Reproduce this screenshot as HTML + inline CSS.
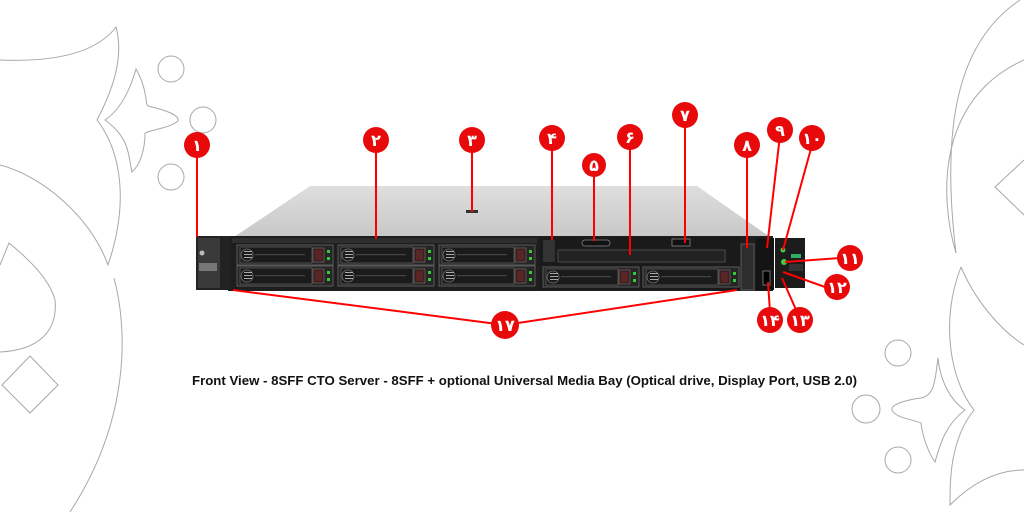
<!DOCTYPE html>
<html><head><meta charset="utf-8"><style>
html,body{margin:0;padding:0;background:#fff;width:1024px;height:512px;overflow:hidden}
svg{display:block}
.num{font-family:"Liberation Sans","DejaVu Sans",sans-serif;font-weight:bold;fill:#fff;font-size:16px;text-anchor:middle}
</style></head><body>
<svg width="1024" height="512" viewBox="0 0 1024 512" xmlns="http://www.w3.org/2000/svg">
<defs>
<linearGradient id="top" x1="0" y1="0" x2="0" y2="1"><stop offset="0" stop-color="#dedede"/><stop offset="1" stop-color="#c8c8c8"/></linearGradient>
<g id="drv">
<rect x="0" y="0" width="96" height="20" fill="#262626" stroke="#6a6a6a" stroke-width="0.8"/>
<rect x="3" y="2" width="72" height="16" fill="#1b1b1b" stroke="#5a5a5a" stroke-width="0.8"/>
<circle cx="10" cy="10" r="6" fill="none" stroke="#777" stroke-width="0.8"/>
<rect x="7" y="6" width="8" height="1" fill="#aaa"/><rect x="7" y="9" width="8" height="1" fill="#aaa"/><rect x="7" y="12" width="8" height="1" fill="#aaa"/>
<rect x="18" y="9" width="50" height="1.2" fill="#444"/>
<rect x="76" y="3" width="11" height="14" fill="#3a1f1f" stroke="#777" stroke-width="0.6"/>
<rect x="78" y="5" width="7" height="10" fill="#5a2525"/>
<rect x="90" y="5" width="3" height="3" fill="#3c3"/><rect x="90" y="12" width="3" height="3" fill="#3c3"/>
</g>
</defs>
<rect width="1024" height="512" fill="#fff"/>
<g fill="none" stroke="#a8a8a8" stroke-width="1">
<path d="M0 60 C50 62 95 55 116 27 C125 60 110 95 97 120 C120 150 130 200 108 265 C90 215 40 175 0 165"/>
<path d="M136 69 C148 90 145 105 148 106 C165 110 180 115 178 121 C170 128 150 130 145 133 C145 150 140 165 132 172 C128 155 130 138 105 120 C120 110 130 90 136 69Z"/>
<circle cx="171" cy="69" r="13"/><circle cx="203" cy="120" r="13"/><circle cx="171" cy="177" r="13"/>
<path d="M0 265 L9 243 C30 260 50 280 55 300 C58 330 40 350 0 352"/>
<path d="M2 385 L30 356 L58 385 L30 413 Z"/>
<path d="M114 278 C128 330 130 420 70 512"/>
</g>
<g fill="none" stroke="#a8a8a8" stroke-width="1">
<path d="M1020 0 C960 40 940 120 956 253 C940 200 935 100 1024 60"/>
<path d="M1024 160 L995 187 L1024 215"/>
<path d="M961 267 C940 320 950 380 974 410 C950 440 950 480 950 505 C975 480 1000 470 1024 470"/>
<path d="M961 267 C975 300 1000 330 1024 345"/>
<path d="M938 358 C935 380 935 395 921 398 C905 400 890 405 892 410 C895 418 915 420 921 423 C923 440 930 455 935 462 C940 445 945 425 965 410 C950 400 940 380 938 358Z"/>
<circle cx="898" cy="353" r="13"/><circle cx="866" cy="409" r="14"/><circle cx="898" cy="460" r="13"/>
</g>
<path d="M310 186 L697 186 L770 237 L234 237 Z" fill="url(#top)"/>
<rect x="466" y="210" width="12" height="3" fill="#333"/>
<rect x="228" y="236" width="545" height="55" fill="#1e1e1e"/>
<rect x="232" y="238" width="305" height="5" fill="#2e2e2e"/>
<rect x="196" y="236" width="34" height="54" fill="#222"/>
<rect x="198" y="238" width="22" height="50" fill="#3a3a3a"/>
<circle cx="202" cy="253" r="2.5" fill="#bbb"/>
<rect x="199" y="263" width="18" height="8" fill="#777"/>
<use href="#drv" x="237" y="245"/><use href="#drv" x="338" y="245"/><use href="#drv" x="439" y="245"/>
<use href="#drv" x="237" y="266"/><use href="#drv" x="338" y="266"/><use href="#drv" x="439" y="266"/>
<rect x="540" y="237" width="200" height="53" fill="#1a1a1a"/>
<rect x="543" y="240" width="12" height="22" fill="#333"/>
<rect x="582" y="240" width="28" height="6" rx="3" fill="#111" stroke="#888" stroke-width="0.8"/>
<rect x="672" y="239" width="18" height="7" fill="#111" stroke="#888" stroke-width="0.8"/>
<rect x="558" y="250" width="167" height="12" fill="#222" stroke="#555" stroke-width="0.8"/>
<use href="#drv" x="543" y="267"/><use href="#drv" x="643" y="267"/>
<rect x="741" y="244" width="13" height="46" fill="#2d2d2d" stroke="#666" stroke-width="0.8"/>
<rect x="756" y="238" width="18" height="52" fill="#141414"/>
<rect x="763" y="271" width="7" height="14" fill="#000" stroke="#888" stroke-width="0.8"/>
<rect x="775" y="238" width="30" height="50" fill="#1c1c1c"/>
<circle cx="783" cy="250" r="2.5" fill="#4c4"/><circle cx="784" cy="262" r="3" fill="#4c4"/>
<rect x="791" y="254" width="10" height="4" fill="#3a6" />
<rect x="789" y="264" width="14" height="7" fill="#333"/>
<g stroke="#f00" stroke-width="2" fill="none">
<line x1="197" y1="150" x2="197" y2="237"/>
<line x1="376" y1="145" x2="376" y2="239"/>
<line x1="472" y1="145" x2="472" y2="212"/>
<line x1="552" y1="145" x2="552" y2="240"/>
<line x1="594" y1="170" x2="594" y2="241"/>
<line x1="630" y1="145" x2="630" y2="255"/>
<line x1="685" y1="120" x2="685" y2="243"/>
<line x1="747" y1="150" x2="747" y2="248"/>
<line x1="780" y1="135" x2="767" y2="248"/>
<line x1="812" y1="145" x2="783" y2="250"/>
<line x1="840" y1="258" x2="785" y2="262"/>
<line x1="825" y1="287" x2="783" y2="272"/>
<line x1="797" y1="312" x2="782" y2="278"/>
<line x1="770" y1="312" x2="768" y2="282"/>
<path d="M505 325 L233 290 M505 325 L737 290"/>
</g>
<g fill="#e8090b">
<circle cx="197" cy="145" r="13"/><circle cx="376" cy="140" r="13"/><circle cx="472" cy="140" r="13"/>
<circle cx="552" cy="138" r="13"/><circle cx="594" cy="165" r="12"/><circle cx="630" cy="137" r="13"/>
<circle cx="685" cy="115" r="13"/><circle cx="747" cy="145" r="13"/><circle cx="780" cy="130" r="13"/>
<circle cx="812" cy="138" r="13"/><circle cx="850" cy="258" r="13"/><circle cx="837" cy="287" r="13"/>
<circle cx="800" cy="320" r="13"/><circle cx="770" cy="320" r="13"/><circle cx="505" cy="325" r="14"/>
</g>
<g class="num">
<text x="197" y="151">۱</text><text x="376" y="146">۲</text><text x="472" y="146">۳</text>
<text x="552" y="144">۴</text><text x="594" y="171">۵</text><text x="630" y="143">۶</text>
<text x="685" y="121">۷</text><text x="747" y="151">۸</text><text x="780" y="136">۹</text>
<text x="812" y="144">۱۰</text><text x="850" y="264">۱۱</text><text x="837" y="293">۱۲</text>
<text x="800" y="326">۱۳</text><text x="770" y="326">۱۴</text><text x="505" y="331">۱۷</text>
</g>
<text x="192" y="385" textLength="665" lengthAdjust="spacingAndGlyphs" font-family="'Liberation Sans',sans-serif" font-weight="bold" font-size="12.5" fill="#111">Front View - 8SFF CTO Server - 8SFF + optional Universal Media Bay (Optical drive, Display Port, USB 2.0)</text>
</svg>
</body></html>
